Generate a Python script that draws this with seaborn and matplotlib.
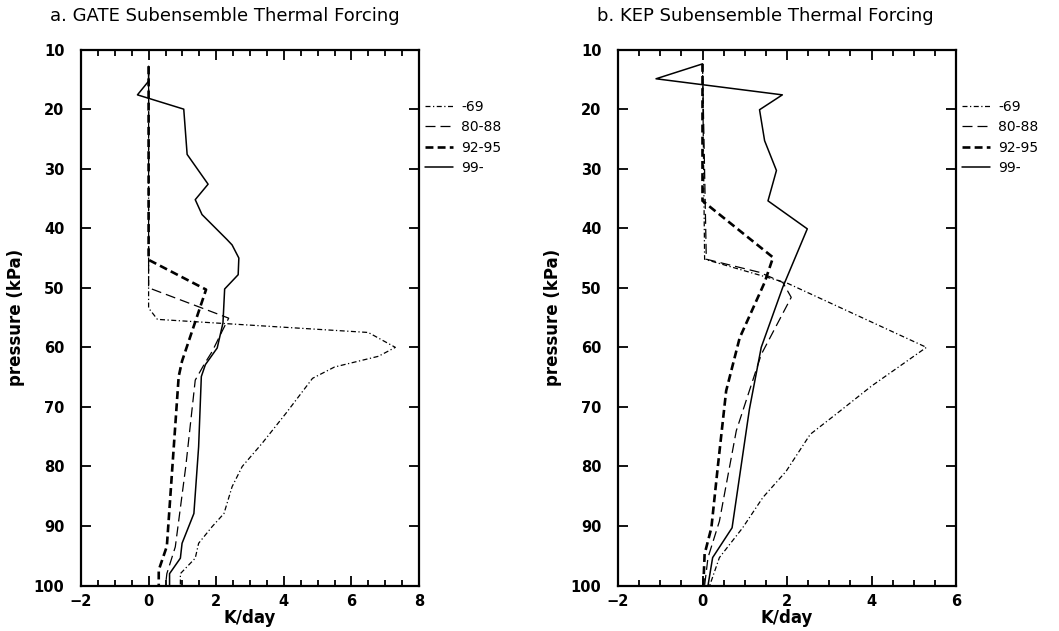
import matplotlib
matplotlib.use("Agg")
import pandas as pd
import matplotlib.pyplot as plt
import seaborn as sns
from matplotlib.ticker import MultipleLocator

labels = ["-69", "80-88", "92-95", "99-"]

# GATE subensemble (K/day vs pressure kPa)
gate_69_x = [0, 0, 0.26, 6.5, 7.3, 6.8, 5.5, 4.85, 4.06, 3.36, 2.77, 2.47, 2.23, 1.88, 1.48, 1.38, 0.94, 0.94]
gate_69_p = [12.8, 53.4, 55.3, 57.5, 60, 61.5, 63.3, 65.2, 71.1, 76.1, 80, 83.4, 87.9, 90.1, 92.9, 95.4, 98, 100]
gate_80_x = [0, 0, 2.37, 2.2, 1.88, 1.66, 1.38, 1.1, 0.79, 0.54, 0.5]
gate_80_p = [12.8, 50, 55.1, 57, 60.7, 62.7, 65.5, 80, 93.5, 98, 100]
gate_92_x = [0, 0, 1.7, 0.99, 0.89, 0.54, 0.3, 0.3]
gate_92_p = [12.8, 45.3, 50.3, 62.3, 64.9, 93.4, 97.4, 100]
gate_99_x = [0, 0, -0.33, 1.04, 1.14, 1.76, 1.38, 1.58, 2.32, 2.47, 2.67, 2.65, 2.25, 2.2,
             2.03, 1.68, 1.56, 1.48, 1.34, 0.99, 0.94, 0.62, 0.62]
gate_99_p = [12.8, 15.3, 17.6, 20, 27.6, 32.6, 35.2, 37.7, 41.9, 42.8, 45, 47.8, 50.2, 55.9,
             60.1, 62.9, 64.9, 76.7, 87.9, 92.9, 95.4, 98, 100]

# KEP subensemble
kep_69_x = [0, 0.05, 2.0, 5.3, 4.0, 3.2, 2.55, 1.98, 1.43, 0.95, 0.4, 0.17]
kep_69_p = [12.4, 45.2, 49.2, 60, 66.5, 71, 74.6, 80.8, 85.2, 90.3, 95.3, 100]
kep_80_x = [0, 0.09, 1.35, 1.9, 2.1, 1.39, 0.8, 0.4, 0.13, 0.05]
kep_80_p = [12.4, 45.2, 47.4, 49.1, 51.6, 61.2, 74, 89.2, 95.3, 100]
kep_92_x = [0, 0, 1.67, 1.47, 0.88, 0.56, 0.36, 0.21, 0.05, 0.02]
kep_92_p = [12.4, 35.4, 44.9, 49.1, 58.4, 67.3, 80.2, 90.3, 94.7, 100]
kep_99_x = [0, -1.1, 1.89, 1.35, 1.47, 1.75, 1.55, 2.48, 1.9, 1.39, 1.11, 0.7, 0.24, 0.13]
kep_99_p = [12.4, 14.9, 17.6, 20.1, 25.3, 30.3, 35.4, 40.1, 49.9, 60, 70.4, 90.3, 95.3, 100]

styles = [
    dict(linestyle=(0, (4, 2, 1, 2)), linewidth=0.9),
    dict(linestyle=(0, (8, 4)), linewidth=0.9),
    dict(linestyle=(0, (3, 1.6)), linewidth=1.9),
    dict(linestyle="-", linewidth=1.1),
]

sns.set_style("ticks", {"axes.edgecolor": "black", "text.color": "black",
                        "axes.labelcolor": "black", "xtick.color": "black",
                        "ytick.color": "black"})
plt.rcParams['font.family'] = ['DejaVu Sans']

fig = plt.figure(figsize=(10.59, 6.31), dpi=100)
ax_a = fig.add_axes([81 / 1059, 0.072, 338 / 1059, 0.8494])
ax_b = fig.add_axes([618 / 1059, 0.072, 338 / 1059, 0.8494])

panels = [
    (ax_a, [(gate_69_x, gate_69_p), (gate_80_x, gate_80_p), (gate_92_x, gate_92_p), (gate_99_x, gate_99_p)],
     (-2, 8), "a. GATE Subensemble Thermal Forcing", 50, 425),
    (ax_b, [(kep_69_x, kep_69_p), (kep_80_x, kep_80_p), (kep_92_x, kep_92_p), (kep_99_x, kep_99_p)],
     (-2, 6), "b. KEP Subensemble Thermal Forcing", 597, 962),
]

for ax, series, xlim, title, tx, lx in panels:
    for (xs, ps), lab, st in zip(series, labels, styles):
        d = pd.DataFrame({"K/day": xs, "p": ps})
        sns.lineplot(data=d, x="K/day", y="p", sort=False, estimator=None,
                     color="black", label=lab, ax=ax, **st)
    ax.set_xlim(*xlim)
    ax.set_ylim(100, 10)
    ax.xaxis.set_major_locator(MultipleLocator(2))
    ax.xaxis.set_minor_locator(MultipleLocator(0.5))
    ax.yaxis.set_major_locator(MultipleLocator(10))
    ax.tick_params(which="both", direction="in", top=True, right=True, width=1.3, colors="black")
    ax.tick_params(which="major", length=7)
    ax.tick_params(which="minor", length=4)
    ax.tick_params(axis="y", pad=12, labelsize=10.5)
    ax.tick_params(axis="x", pad=6, labelsize=10.5)
    for t in ax.get_xticklabels() + ax.get_yticklabels():
        t.set_fontweight("bold")
    for s in ax.spines.values():
        s.set_linewidth(1.6)
        s.set_color("black")
    ax.set_xlabel("K/day", fontsize=12, fontweight="bold", labelpad=0, color="black")
    ax.set_ylabel("pressure (kPa)", fontsize=12, fontweight="bold", labelpad=6, color="black")
    fig.text(tx / 1059, 1 - 16 / 631, title, fontsize=13, va="center", ha="left", color="black")
    leg = ax.legend(loc="upper left", bbox_to_anchor=(lx / 1059, 1 - 100 / 631),
                    bbox_transform=fig.transFigure, frameon=False, fontsize=10,
                    handlelength=2.0, handletextpad=0.6, labelspacing=0.45,
                    borderpad=0, borderaxespad=0)
    for t in leg.get_texts():
        t.set_color("black")

fig.savefig("out.png", dpi=100)
